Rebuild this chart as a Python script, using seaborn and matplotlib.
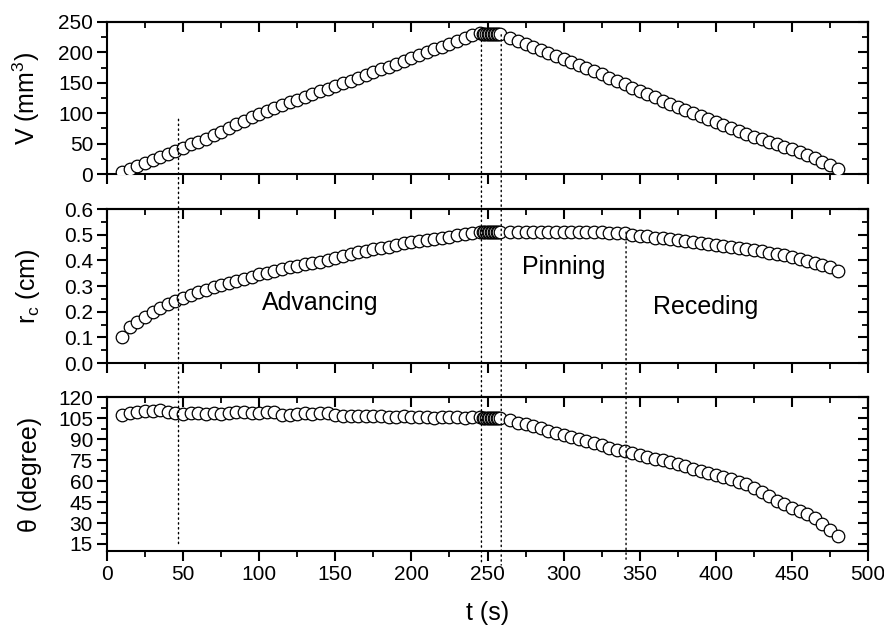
import matplotlib
matplotlib.use("Agg")
import matplotlib.pyplot as plt
from matplotlib.patches import ConnectionPatch
from matplotlib.ticker import MultipleLocator, FormatStrFormatter, NullFormatter
import pandas as pd
import seaborn as sns

# time stamps (s): advancing, pinned cluster, receding
t_s = [
    10, 15, 20, 25, 30, 35, 40, 45, 50, 55, 60, 65, 70, 75, 80, 85,
    90, 95, 100, 105, 110, 115, 120, 125, 130, 135, 140, 145, 150, 155, 160, 165,
    170, 175, 180, 185, 190, 195, 200, 205, 210, 215, 220, 225, 230, 235, 240, 245,
    247, 248, 249, 250, 251, 252, 253, 254, 255, 256, 257, 258,
    265, 270, 275, 280, 285, 290, 295, 300, 305, 310, 315, 320, 325, 330, 335, 340,
    345, 350, 355, 360, 365, 370, 375, 380, 385, 390, 395, 400, 405, 410, 415, 420,
    425, 430, 435, 440, 445, 450, 455, 460, 465, 470, 475, 480,
]

volume_mm3 = [
    3, 8, 13, 18, 23, 28, 33, 38, 43, 49, 53, 58, 64, 69, 76, 82,
    87, 93, 98, 103, 108, 113, 118, 122, 127, 132, 136, 140, 145, 149, 153, 158,
    163, 167, 172, 176, 181, 186, 190, 195, 200, 205, 209, 214, 218, 223, 228, 232,
    230, 230, 230, 230, 230, 230, 230, 230, 230, 230, 230, 230,
    224, 219, 214, 209, 204, 199, 194, 189, 184, 179, 174, 169, 164, 158, 153, 148,
    142, 137, 131, 126, 120, 115, 110, 105, 100, 95, 90, 85, 80, 75, 70, 65,
    61, 57, 53, 49, 45, 41, 37, 32, 26, 19, 14, 9,
]

radius_cm = [
    0.10, 0.14, 0.16, 0.18, 0.20, 0.215, 0.23, 0.24, 0.255, 0.265, 0.275, 0.285, 0.295, 0.303, 0.31, 0.318,
    0.328, 0.337, 0.345, 0.351, 0.358, 0.366, 0.373, 0.378, 0.384, 0.39, 0.394, 0.401, 0.41, 0.418, 0.424, 0.431,
    0.437, 0.444, 0.449, 0.454, 0.46, 0.466, 0.471, 0.474, 0.479, 0.484, 0.487, 0.492, 0.499, 0.504, 0.508, 0.509,
    0.51, 0.51, 0.51, 0.51, 0.51, 0.51, 0.51, 0.51, 0.51, 0.51, 0.51, 0.51,
    0.511, 0.512, 0.512, 0.512, 0.512, 0.512, 0.512, 0.511, 0.511, 0.511, 0.510, 0.510, 0.509, 0.508, 0.507, 0.505,
    0.50, 0.496, 0.493, 0.489, 0.486, 0.483, 0.480, 0.477, 0.473, 0.469, 0.465, 0.461, 0.456, 0.452, 0.448, 0.444,
    0.439, 0.435, 0.43, 0.425, 0.419, 0.412, 0.405, 0.398, 0.391, 0.383, 0.373, 0.358,
]

theta_deg = [
    107, 108.5, 109.5, 110, 110.2, 111, 109.5, 108.3, 107.8, 108.8, 108.3, 107.8, 108.3, 108.2, 108.3, 109,
    109.5, 108.3, 108.8, 109.5, 109.5, 107.2, 107, 107.8, 108.3, 107.8, 108.3, 108.5, 107.5, 106.6, 106.4, 106.5,
    106.5, 106.4, 106.2, 106, 105.9, 106.2, 105.8, 105.6, 105.5, 105.3, 105.5, 105.6, 105.5, 105.3, 105.4, 105.5,
    105, 105, 105, 105, 105, 105, 105, 105, 105, 105, 105, 105,
    103.6, 101.8, 100.7, 99.3, 97.6, 96, 94.2, 93, 91.4, 89.7, 88.4, 86.8, 85.4, 83.8, 82.5, 81.2,
    79.7, 78.4, 77.2, 76, 74.8, 73.3, 71.9, 70.6, 68.9, 67.3, 65.8, 64.4, 62.9, 61.2, 59.5, 57.6,
    55, 52.2, 49.2, 46, 43.5, 40.8, 38.8, 36.3, 33.5, 29, 24.8, 20.7,
]

# dotted stage boundaries: time, panel/value where they start, value in bottom panel where they end
guide_t = [47, 246, 259, 341]
guide_start_panel = [0, 0, 0, 1]
guide_start_val = [90, 220, 229, 0.51]
guide_end_val = [14.5, 2.3, 0, 3.5]

stage_names = ["Advancing", "Pinning", "Receding"]
stage_t = [140, 300, 393]
stage_r = [0.233, 0.375, 0.219]


def style_axes(ax, ylim, ymajor, yminor):
    ax.set_xlim(0, 500)
    ax.set_ylim(*ylim)
    ax.xaxis.set_major_locator(MultipleLocator(50))
    ax.xaxis.set_minor_locator(MultipleLocator(25))
    ax.yaxis.set_major_locator(MultipleLocator(ymajor))
    ax.yaxis.set_minor_locator(MultipleLocator(yminor))
    ax.tick_params(which="both", direction="out", width=1.5, labelsize=15, pad=3,
                   colors="black", bottom=True, left=True, top=False, right=False)
    ax.tick_params(which="major", length=7)
    ax.tick_params(which="minor", length=4, width=1.3)
    for sp in ax.spines.values():
        sp.set_linewidth(1.5)
        sp.set_color("black")

    top = ax.secondary_xaxis("top")
    top.xaxis.set_major_locator(MultipleLocator(50))
    top.xaxis.set_minor_locator(MultipleLocator(25))
    top.xaxis.set_major_formatter(NullFormatter())
    top.tick_params(which="both", direction="in", width=1.5, colors="black")
    top.tick_params(which="major", length=7)
    top.tick_params(which="minor", length=4, width=1.3)
    top.spines["top"].set_linewidth(1.5)

    right = ax.secondary_yaxis("right")
    right.yaxis.set_major_locator(MultipleLocator(ymajor))
    right.yaxis.set_minor_locator(MultipleLocator(yminor))
    right.yaxis.set_major_formatter(NullFormatter())
    right.tick_params(which="both", direction="in", width=1.5, colors="black")
    right.tick_params(which="major", length=7)
    right.tick_params(which="minor", length=4, width=1.3)
    right.spines["right"].set_linewidth(1.5)

    ax.yaxis.set_label_coords(-0.085, 0.5)


def main():
    sns.set_theme(style="ticks")
    plt.rcParams["font.family"] = ["Liberation Sans", "DejaVu Sans"]
    plt.rcParams["mathtext.fontset"] = "custom"
    plt.rcParams["mathtext.rm"] = "Liberation Sans"
    plt.rcParams["mathtext.default"] = "regular"
    plt.rcParams["text.color"] = "black"
    plt.rcParams["axes.labelcolor"] = "black"

    df = pd.DataFrame({"t": t_s, "V": volume_mm3, "r": radius_cm, "theta": theta_deg})

    fig = plt.figure(figsize=(8.84, 6.30), dpi=100)
    ax_v = fig.add_axes([0.121, 0.7238, 0.861, 0.2413])
    ax_r = fig.add_axes([0.121, 0.4238, 0.861, 0.2444])
    ax_th = fig.add_axes([0.121, 0.1254, 0.861, 0.2444])
    axes = [ax_v, ax_r, ax_th]

    marker_kw = dict(marker="o", s=82, color="white", edgecolor="black", linewidth=0.9, zorder=3)
    sns.scatterplot(data=df, x="t", y="V", ax=ax_v, **marker_kw)
    sns.scatterplot(data=df, x="t", y="r", ax=ax_r, **marker_kw)
    sns.scatterplot(data=df, x="t", y="theta", ax=ax_th, **marker_kw)

    style_axes(ax_v, (0, 250), 50, 25)
    style_axes(ax_r, (0, 0.6), 0.1, 0.05)
    style_axes(ax_th, (10, 120), 15, 7.5)
    ax_r.yaxis.set_major_formatter(FormatStrFormatter("%.1f"))

    for ax in (ax_v, ax_r):
        ax.set_xlabel("")
        ax.tick_params(labelbottom=False)

    ax_v.set_ylabel("V (mm$^3$)", fontsize=18)
    ax_r.set_ylabel("r$_c$ (cm)", fontsize=18)
    ax_th.set_ylabel("θ (degree)", fontsize=18)
    ax_th.set_xlabel("t (s)", fontsize=18, labelpad=12)

    for name, x, y in zip(stage_names, stage_t, stage_r):
        ax_r.text(x, y, name, fontsize=18, ha="center", va="center")

    for x, p, y0, y1 in zip(guide_t, guide_start_panel, guide_start_val, guide_end_val):
        con = ConnectionPatch(xyA=(x, y0), coordsA=axes[p].transData,
                              xyB=(x, y1), coordsB=ax_th.transData,
                              linestyle=(0, (1, 2.5)), color="black", linewidth=1.0)
        fig.add_artist(con)

    fig.savefig("out.png", dpi=100, facecolor="white")
    plt.close(fig)


if __name__ == "__main__":
    main()
